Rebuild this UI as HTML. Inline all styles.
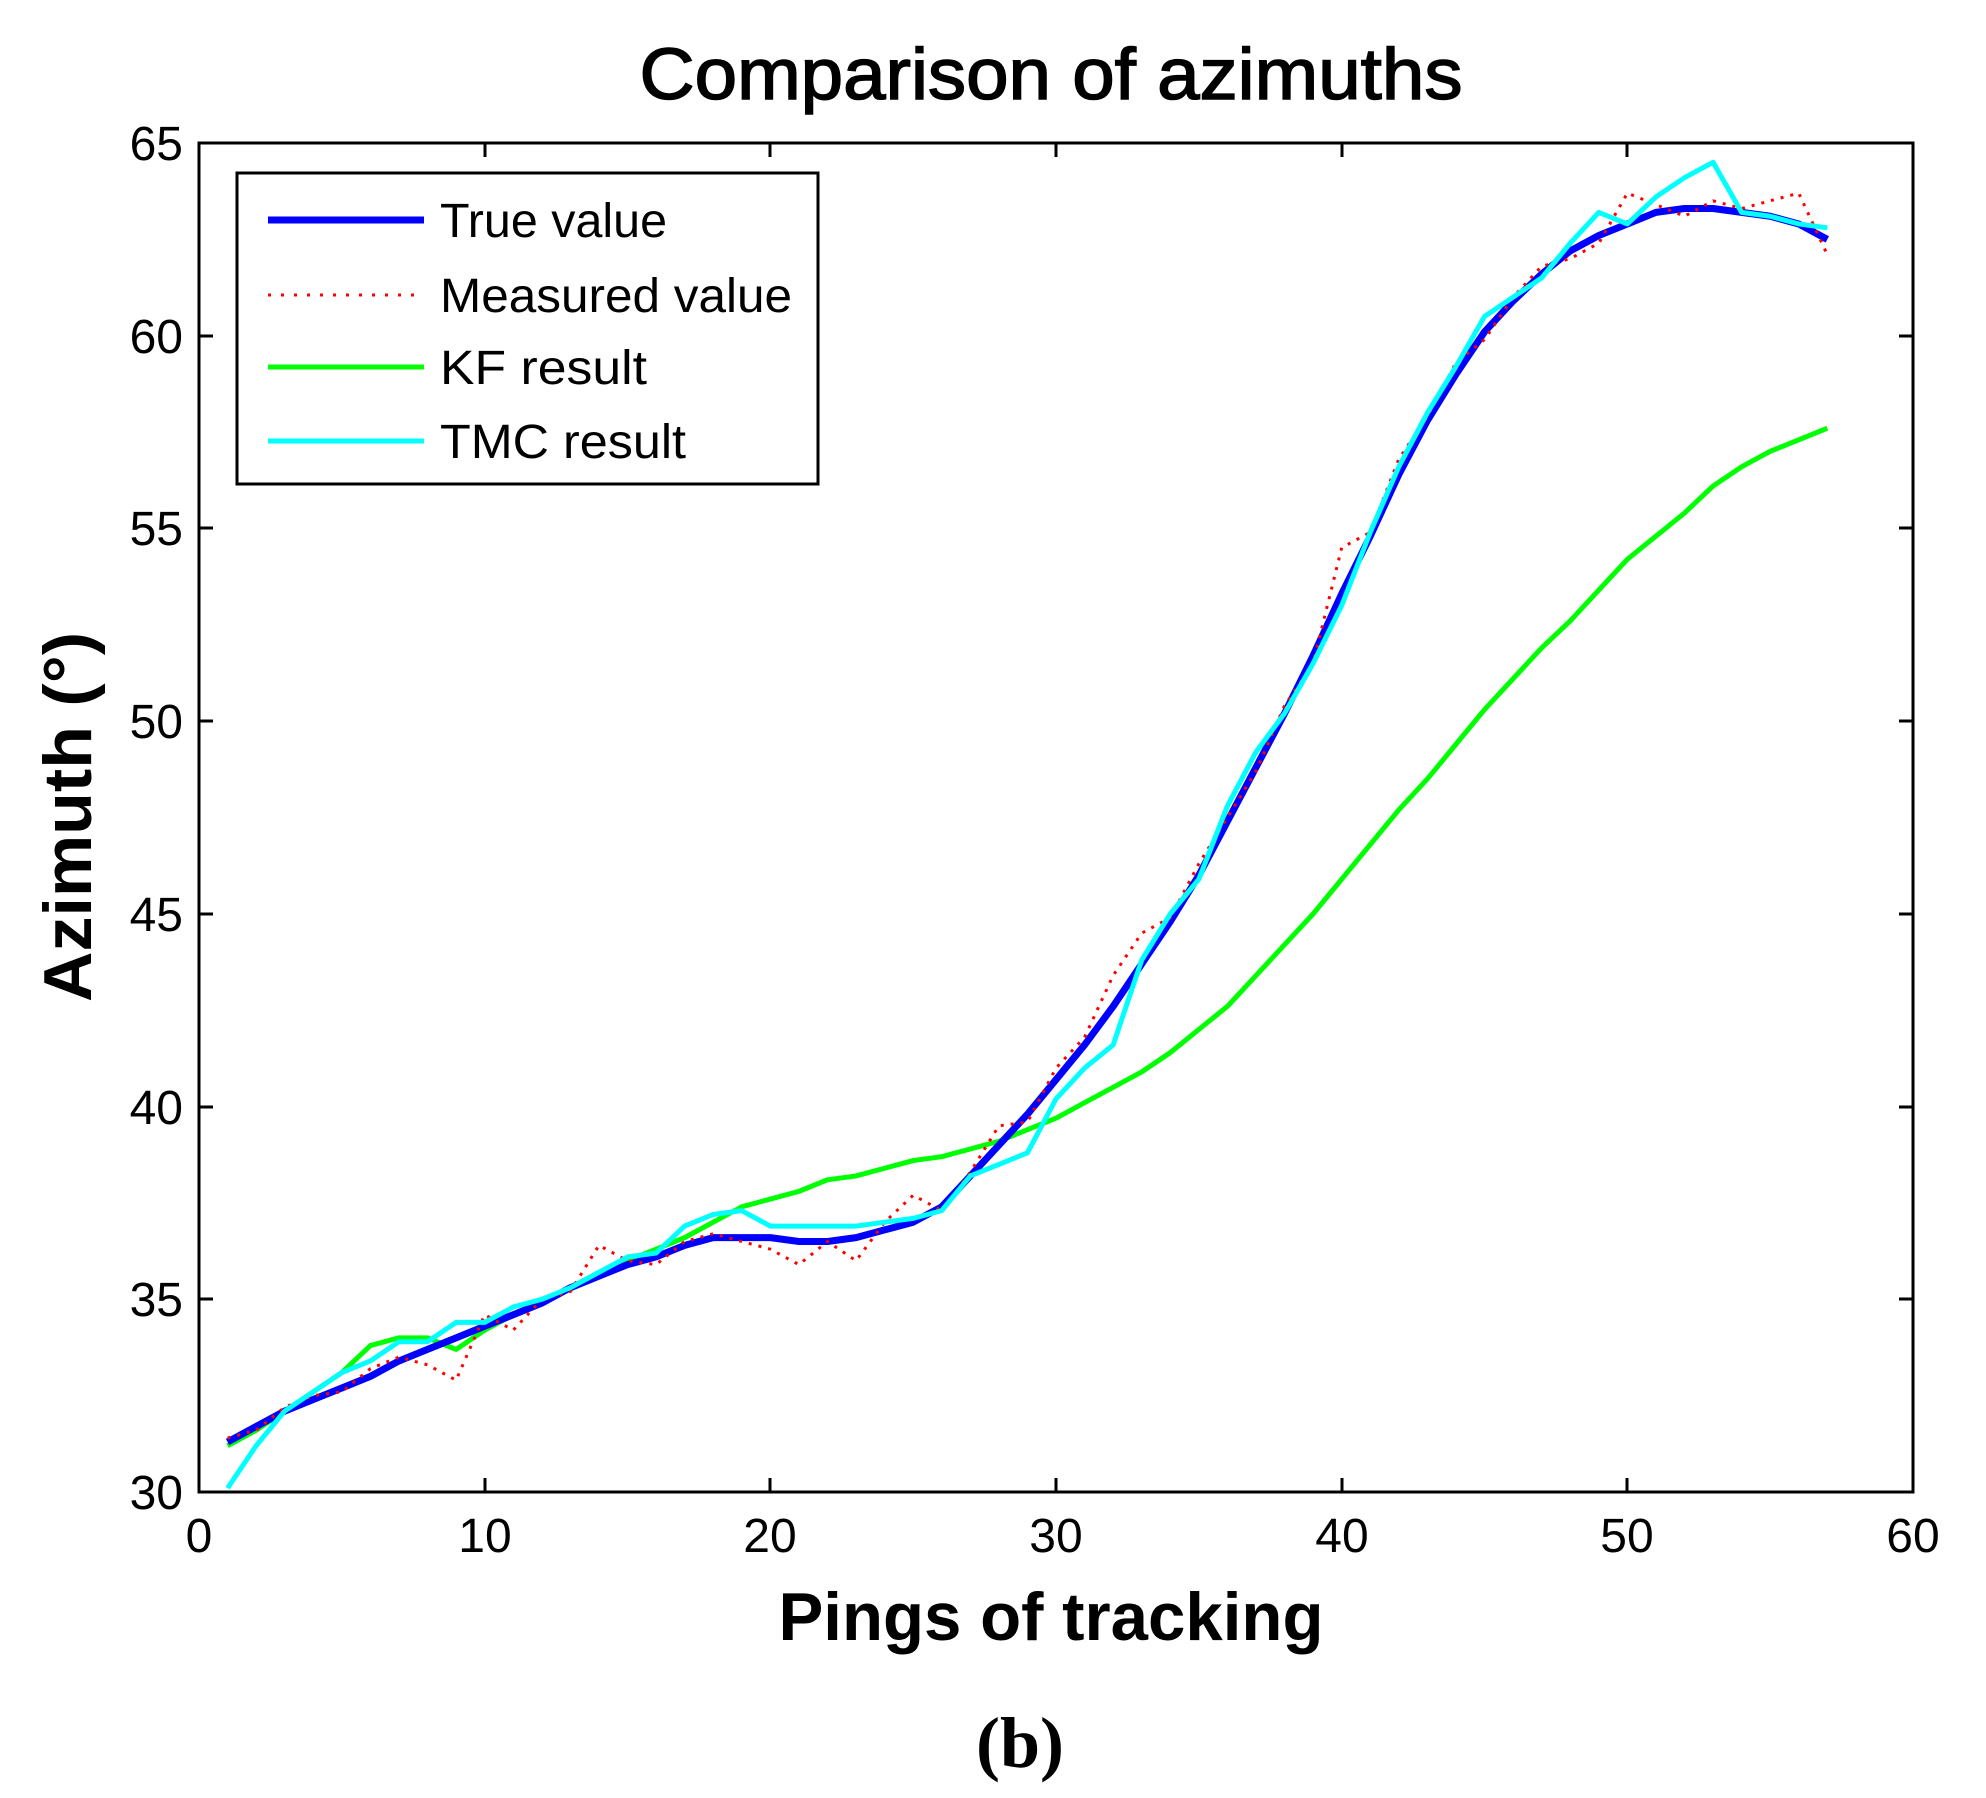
<!DOCTYPE html>
<html><head><meta charset="utf-8"><style>body{margin:0;background:#fff}svg{display:block}</style></head>
<body>
<svg width="1986" height="1798" viewBox="0 0 1986 1798" xmlns="http://www.w3.org/2000/svg" font-family="Liberation Sans, Arial, sans-serif">
<rect width="1986" height="1798" fill="#fff"/>
<text x="1051" y="99" font-size="72" text-anchor="middle" textLength="823" lengthAdjust="spacingAndGlyphs" stroke="#000" stroke-width="1.5">Comparison of azimuths</text>
<g stroke="#000" stroke-width="3">
<rect x="199" y="143" width="1714" height="1349" fill="none"/>
<path d="M485 1492v-14M770 1492v-14M1056 1492v-14M1342 1492v-14M1627 1492v-14M485 143v14M770 143v14M1056 143v14M1342 143v14M1627 143v14M199 1299h14M199 1107h14M199 914h14M199 721h14M199 528h14M199 336h14M1913 1299h-14M1913 1107h-14M1913 914h-14M1913 721h-14M1913 528h-14M1913 336h-14"/>
</g>
<g font-size="48" fill="#000">
<g text-anchor="end">
<text x="183" y="1509">30</text><text x="183" y="1316">35</text><text x="183" y="1124">40</text><text x="183" y="931">45</text><text x="183" y="738">50</text><text x="183" y="545">55</text><text x="183" y="353">60</text><text x="183" y="160">65</text>
</g>
<g text-anchor="middle">
<text x="199" y="1552">0</text><text x="485" y="1552">10</text><text x="770" y="1552">20</text><text x="1056" y="1552">30</text><text x="1342" y="1552">40</text><text x="1627" y="1552">50</text><text x="1913" y="1552">60</text>
</g>
</g>
<text x="1051" y="1640" font-size="68" font-weight="bold" text-anchor="middle" textLength="545" lengthAdjust="spacingAndGlyphs">Pings of tracking</text>
<text transform="translate(91 817) rotate(-90)" font-size="68" font-weight="bold" text-anchor="middle" textLength="370" lengthAdjust="spacingAndGlyphs">Azimuth (°)</text>
<text x="1020" y="1767" font-size="72" font-weight="bold" text-anchor="middle" font-family="Liberation Serif, serif">(b)</text>
<g transform="matrix(28.567 0 0 -38.543 199 2648.3)" fill="none" stroke-linejoin="round">
<polyline vector-effect="non-scaling-stroke" stroke="#00ff00" stroke-width="5" points="1,31.2 2,31.6 3,32.1 4,32.6 5,33.1 6,33.8 7,34 8,34 9,33.7 10,34.2 11,34.6 12,34.9 13,35.3 14,35.7 15,36 16,36.3 17,36.6 18,37 19,37.4 20,37.6 21,37.8 22,38.1 23,38.2 24,38.4 25,38.6 26,38.7 27,38.9 28,39.1 29,39.4 30,39.7 31,40.1 32,40.5 33,40.9 34,41.4 35,42 36,42.6 37,43.4 38,44.2 39,45 40,45.9 41,46.8 42,47.7 43,48.5 44,49.4 45,50.3 46,51.1 47,51.9 48,52.6 49,53.4 50,54.2 51,54.8 52,55.4 53,56.1 54,56.6 55,57 56,57.3 57,57.6"/>
<polyline vector-effect="non-scaling-stroke" stroke="#0000ff" stroke-width="7" points="1,31.3 2,31.7 3,32.1 4,32.4 5,32.7 6,33 7,33.4 8,33.7 9,34 10,34.3 11,34.6 12,34.9 13,35.3 14,35.6 15,35.9 16,36.1 17,36.4 18,36.6 19,36.6 20,36.6 21,36.5 22,36.5 23,36.6 24,36.8 25,37 26,37.4 27,38.2 28,39 29,39.8 30,40.7 31,41.6 32,42.6 33,43.7 34,44.8 35,46 36,47.4 37,48.8 38,50.2 39,51.7 40,53.3 41,54.8 42,56.4 43,57.8 44,59 45,60.1 46,60.9 47,61.6 48,62.2 49,62.6 50,62.9 51,63.2 52,63.3 53,63.3 54,63.2 55,63.1 56,62.9 57,62.5"/>
<polyline vector-effect="non-scaling-stroke" stroke="#ff0000" stroke-width="3" stroke-dasharray="3 7" points="1,31.4 2,31.6 3,32.2 4,32.5 5,32.6 6,33.2 7,33.5 8,33.3 9,32.9 10,34.6 11,34.2 12,35 13,35.2 14,36.4 15,36 16,35.9 17,36.5 18,36.7 19,36.5 20,36.3 21,35.9 22,36.5 23,36 24,37 25,37.7 26,37.3 27,38.3 28,39.5 29,39.6 30,41 31,41.8 32,43.4 33,44.5 34,44.9 35,46.3 36,47.5 37,48.7 38,50.4 39,51.5 40,54.5 41,54.9 42,56.8 43,57.9 44,59.3 45,59.9 46,61 47,61.8 48,62 49,62.4 50,63.7 51,63.4 52,63.1 53,63.5 54,63.3 55,63.5 56,63.7 57,62.1"/>
<polyline vector-effect="non-scaling-stroke" stroke="#00ffff" stroke-width="5" points="1,30.1 2,31.2 3,32.1 4,32.6 5,33.1 6,33.4 7,33.9 8,33.9 9,34.4 10,34.4 11,34.8 12,35 13,35.3 14,35.7 15,36.1 16,36.2 17,36.9 18,37.2 19,37.3 20,36.9 21,36.9 22,36.9 23,36.9 24,37 25,37.1 26,37.3 27,38.2 28,38.5 29,38.8 30,40.2 31,41 32,41.6 33,43.8 34,45 35,45.9 36,47.8 37,49.2 38,50.2 39,51.5 40,53 41,54.9 42,56.6 43,58 44,59.2 45,60.5 46,61 47,61.5 48,62.4 49,63.2 50,62.9 51,63.6 52,64.1 53,64.5 54,63.2 55,63.1 56,62.9 57,62.8"/>
</g>
<rect x="237" y="173" width="581" height="311" fill="#fff" stroke="#000" stroke-width="3"/>
<g stroke-width="5">
<line x1="268" y1="220" x2="424" y2="220" stroke="#0000ff" stroke-width="7"/>
<line x1="268" y1="295" x2="424" y2="295" stroke="#ff0000" stroke-width="3" stroke-dasharray="3 10"/>
<line x1="268" y1="367" x2="424" y2="367" stroke="#00ff00"/>
<line x1="268" y1="441" x2="424" y2="441" stroke="#00ffff"/>
</g>
<g font-size="48">
<text x="440" y="237" textLength="227" lengthAdjust="spacingAndGlyphs">True value</text>
<text x="440" y="312" textLength="352" lengthAdjust="spacingAndGlyphs">Measured value</text>
<text x="440" y="384" textLength="207" lengthAdjust="spacingAndGlyphs">KF result</text>
<text x="440" y="458" textLength="246" lengthAdjust="spacingAndGlyphs">TMC result</text>
</g>
</svg>
</body></html>
